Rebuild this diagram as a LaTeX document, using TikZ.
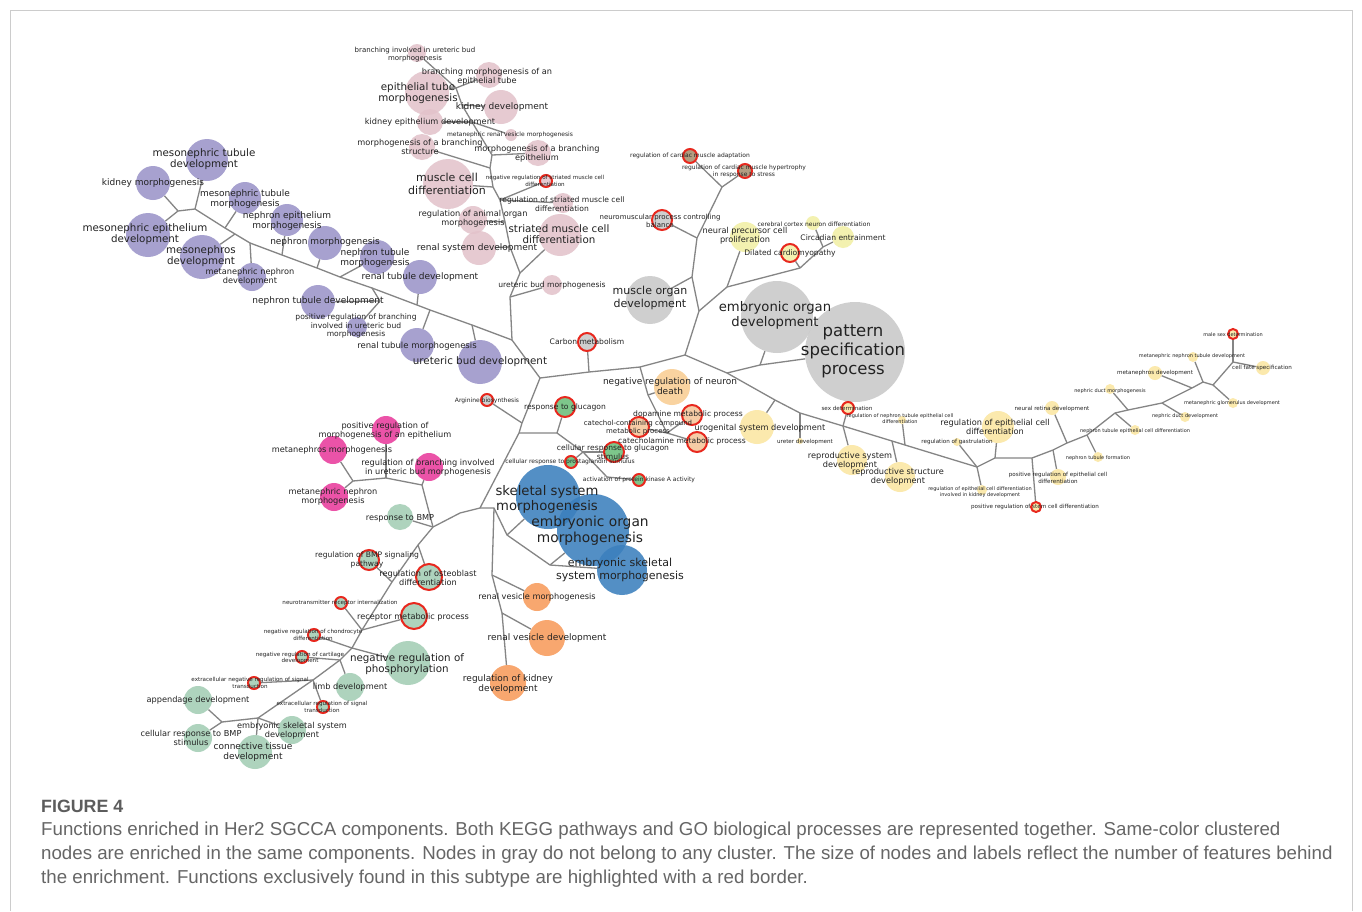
\documentclass[tikz,border=0pt]{standalone}
\usepackage{fontspec}
\setmainfont{DejaVu Sans}
\newfontfamily\capfont{Liberation Sans}
\definecolor{pinkc}{HTML}{E3C3CB}
\definecolor{purc}{HTML}{9B95C9}
\definecolor{grayc}{HTML}{C9C9C9}
\definecolor{brownc}{HTML}{A89070}
\definecolor{yelc}{HTML}{F2F0A6}
\definecolor{yel2}{HTML}{FBE6A2}
\definecolor{peach}{HTML}{F9CE93}
\definecolor{peach2}{HTML}{F5C69A}
\definecolor{magc}{HTML}{E93C9C}
\definecolor{greenc}{HTML}{A3CDB5}
\definecolor{bgreen}{HTML}{6CBF7B}
\definecolor{bluec}{HTML}{3C80BE}
\definecolor{orc}{HTML}{F89B5C}
\definecolor{redc}{HTML}{E8281E}
\definecolor{edgec}{HTML}{858585}
\definecolor{txtc}{HTML}{222222}
\definecolor{capc}{HTML}{666666}
\definecolor{framec}{HTML}{CCCCCC}
\pgfdeclarelayer{background}
\pgfsetlayers{background,main}
\tikzset{
  bub/.style={circle, inner sep=0pt, minimum size={2*#1pt}, fill opacity=0.88},
  rb/.style={draw=redc, line width=2pt},
  edge/.style={draw=edgec, line width=1.3pt},
  lbl/.style={align=center, inner sep=0pt, text=txtc},
  t5/.style={font=\fontsize{5.0}{5.9}\selectfont},
  t55/.style={font=\fontsize{5.6}{6.5}\selectfont},
  t6/.style={font=\fontsize{6}{7}\selectfont},
  t7/.style={font=\fontsize{7}{8}\selectfont},
  t75/.style={font=\fontsize{7.6}{8.8}\selectfont},
  t8/.style={font=\fontsize{8.2}{9.4}\selectfont},
  t85/.style={font=\fontsize{8.5}{9.8}\selectfont},
  t9/.style={font=\fontsize{9}{10.4}\selectfont},
  t10/.style={font=\fontsize{10.3}{11.6}\selectfont},
  t11/.style={font=\fontsize{11}{12.8}\selectfont},
  t13/.style={font=\fontsize{13.2}{15}\selectfont},
  t14/.style={font=\fontsize{13.8}{16}\selectfont},
  t165/.style={font=\fontsize{16.5}{19}\selectfont},
  captext/.style={anchor=west, inner sep=0pt, text=capc, font=\capfont\fontsize{18.7}{22}\selectfont},
}
\begin{document}
\begin{tikzpicture}[x=1pt,y=-1pt]
\useasboundingbox (0,0) rectangle (1362,911);
\begin{pgfonlayer}{background}
\fill[white] (0,0) rectangle (1362,911);
\end{pgfonlayer}
\draw[framec, line width=0.8pt] (10,911) -- (10,10) -- (1352,10) -- (1352,911);

% ---------------- PINK ----------------
\node[bub=9, fill=pinkc] (pk1) at (417,53) {};
\node[bub=13, fill=pinkc] (pk2) at (489,75) {};
\node[bub=22, fill=pinkc] (pk3) at (427,93) {};
\node[bub=17, fill=pinkc] (pk4) at (501,107) {};
\node[bub=13, fill=pinkc] (pk5) at (430,122) {};
\node[bub=6, fill=pinkc] (pk6) at (511,135) {};
\node[bub=13, fill=pinkc] (pk7) at (422,147) {};
\node[bub=13, fill=pinkc] (pk8) at (538,153) {};
\node[bub=25, fill=pinkc] (pk9) at (448,184) {};
\node[bub=6, fill=pinkc, rb] (pk10) at (546,181) {};
\node[bub=10, fill=pinkc] (pk11) at (563,203) {};
\node[bub=14, fill=pinkc] (pk12) at (473,220) {};
\node[bub=21, fill=pinkc] (pk13) at (560,235) {};
\node[bub=17, fill=pinkc] (pk14) at (479,248) {};
\node[bub=10, fill=pinkc] (pk15) at (552,285) {};

% ---------------- PURPLE ----------------
\node[bub=21, fill=purc] (pu1) at (207,160) {};
\node[bub=17, fill=purc] (pu2) at (153,183) {};
\node[bub=16, fill=purc] (pu3) at (245,198) {};
\node[bub=16, fill=purc] (pu4) at (287,220) {};
\node[bub=22, fill=purc] (pu5) at (148,235) {};
\node[bub=22, fill=purc] (pu6) at (202,257) {};
\node[bub=14, fill=purc] (pu7) at (252,277) {};
\node[bub=17, fill=purc] (pu8) at (325,243) {};
\node[bub=17, fill=purc] (pu9) at (377,257) {};
\node[bub=17, fill=purc] (pu10) at (420,277) {};
\node[bub=17, fill=purc] (pu11) at (318,302) {};
\node[bub=10, fill=purc] (pu12) at (357,327) {};
\node[bub=17, fill=purc] (pu13) at (417,345) {};
\node[bub=22, fill=purc] (pu14) at (480,362) {};

% ---------------- GRAY / YELLOW (top centre) ----------------
\node[bub=7, fill=brownc, rb] (g1) at (690,156) {};
\node[bub=7, fill=brownc, rb] (g2) at (745,171) {};
\node[bub=10, fill=grayc, rb] (g3) at (662,220) {};
\node[bub=15, fill=yelc] (y1) at (745,237) {};
\node[bub=7, fill=yelc] (y2) at (813,223) {};
\node[bub=11, fill=yelc] (y3) at (843,237) {};
\node[bub=9, fill=yelc, rb] (y4) at (790,253) {};
\node[bub=24, fill=grayc] (g4) at (650,300) {};
\node[bub=36, fill=grayc] (g5) at (777,317) {};
\node[bub=50, fill=grayc] (g6) at (855,352) {};
\node[bub=9, fill=grayc, rb] (g7) at (587,342) {};

% ---------------- CENTRE ----------------
\node[bub=18, fill=peach] (c1) at (672,387) {};
\node[bub=6, fill=grayc, rb] (c2) at (487,400) {};
\node[bub=10, fill=bgreen, rb] (c3) at (565,407) {};
\node[bub=10, fill=peach2, rb] (c4) at (639,427) {};
\node[bub=10, fill=peach2, rb] (c5) at (692,415) {};
\node[bub=10, fill=peach2, rb] (c6) at (697,442) {};
\node[bub=17, fill=yel2] (c7) at (757,427) {};
\node[bub=10, fill=bgreen, rb] (c8) at (614,452) {};
\node[bub=6, fill=bgreen, rb] (c9) at (571,462) {};
\node[bub=6, fill=bgreen, rb] (c10) at (639,480) {};
\node[bub=3, fill=yel2] (ur) at (800,441) {};

% ---------------- YELLOW (right) ----------------
\node[bub=6, fill=yel2, rb] (r1) at (848,408) {};
\node[bub=4, fill=yel2] (r2) at (902,420) {};
\node[bub=15, fill=yel2] (r3) at (852,460) {};
\node[bub=15, fill=yel2] (r4) at (900,477) {};
\node[bub=4, fill=yel2] (r5) at (957,442) {};
\node[bub=16, fill=yel2] (r6) at (998,427) {};
\node[bub=5, fill=yel2] (r7) at (982,490) {};
\node[bub=5, fill=yel2, rb] (r8) at (1036,507) {};
\node[bub=8, fill=yel2] (r9) at (1058,477) {};
\node[bub=7, fill=yel2] (r10) at (1052,408) {};
\node[bub=5, fill=yel2] (r11) at (1098,457) {};
\node[bub=5, fill=yel2] (r12) at (1135,430) {};
\node[bub=5, fill=yel2] (r13) at (1110,389) {};
\node[bub=5, fill=yel2] (r14) at (1185,417) {};
\node[bub=7, fill=yel2] (r15) at (1155,373) {};
\node[bub=5, fill=yel2] (r16) at (1193,357) {};
\node[bub=5, fill=yel2] (r17) at (1233,403) {};
\node[bub=5, fill=yel2, rb] (r18) at (1233,334) {};
\node[bub=7, fill=yel2] (r19) at (1263,368) {};

% ---------------- MAGENTA ----------------
\node[bub=14, fill=magc] (m1) at (386,430) {};
\node[bub=14, fill=magc] (m2) at (333,450) {};
\node[bub=14, fill=magc] (m3) at (429,467) {};
\node[bub=14, fill=magc] (m4) at (334,497) {};

% ---------------- GREEN ----------------
\node[bub=13, fill=greenc] (gr0) at (400,517) {};
\node[bub=10, fill=greenc, rb] (gr1) at (369,560) {};
\node[bub=13, fill=greenc, rb] (gr2) at (429,577) {};
\node[bub=6, fill=greenc, rb] (gr3) at (341,603) {};
\node[bub=13, fill=greenc, rb] (gr4) at (414,616) {};
\node[bub=6, fill=greenc, rb] (gr5) at (314,635) {};
\node[bub=6, fill=greenc, rb] (gr6) at (302,657) {};
\node[bub=22, fill=greenc] (gr7) at (408,663) {};
\node[bub=6, fill=greenc, rb] (gr8) at (254,683) {};
\node[bub=14, fill=greenc] (gr9) at (350,687) {};
\node[bub=6, fill=greenc, rb] (gr10) at (323,707) {};
\node[bub=14, fill=greenc] (gr11) at (198,700) {};
\node[bub=14, fill=greenc] (gr12) at (292,730) {};
\node[bub=14, fill=greenc] (gr13) at (198,738) {};
\node[bub=17, fill=greenc] (gr14) at (255,752) {};

% ---------------- BLUE / ORANGE ----------------
\node[bub=32, fill=bluec] (b1) at (548,497) {};
\node[bub=36, fill=bluec] (b2) at (593,530) {};
\node[bub=25, fill=bluec] (b3) at (622,570) {};
\node[bub=14, fill=orc] (o1) at (537,597) {};
\node[bub=18, fill=orc] (o2) at (547,638) {};
\node[bub=18, fill=orc] (o3) at (508,683) {};

% ---------------- junctions ----------------
\coordinate (J1) at (178,211); \coordinate (J2) at (195,209);
\coordinate (A1) at (225,228); \coordinate (A2) at (235,234);
\coordinate (A3) at (250,243); \coordinate (A4) at (282,255);
\coordinate (A5) at (317,268); \coordinate (A6) at (340,277);
\coordinate (A7) at (372,288); \coordinate (Jn) at (380,301);
\coordinate (A8) at (417,305); \coordinate (A9) at (430,310);
\coordinate (A10) at (472,325); \coordinate (R0) at (512,340);
\coordinate (P1) at (510,297); \coordinate (P2) at (520,273);
\coordinate (P3) at (510,247); \coordinate (P4) at (505,222);
\coordinate (P5) at (500,200); \coordinate (P6) at (493,187);
\coordinate (P7) at (490,168); \coordinate (P8) at (492,155);
\coordinate (P9) at (472,122); \coordinate (P10) at (462,105);
\coordinate (P11) at (456,88);
\coordinate (C0) at (540,378); \coordinate (Cb) at (589,372);
\coordinate (N0) at (640,367); \coordinate (N1) at (648,395);
\coordinate (N2) at (667,433); \coordinate (M3) at (685,355);
\coordinate (G1) at (699,311); \coordinate (Gm) at (692,277);
\coordinate (Gn) at (697,238); \coordinate (Gc) at (722,187);
\coordinate (Y1) at (727,287); \coordinate (Y2) at (800,268);
\coordinate (Y3) at (823,247);
\coordinate (PS1) at (727,373); \coordinate (PS2) at (760,365);
\coordinate (U1) at (775,400); \coordinate (U2) at (800,413);
\coordinate (U3) at (843,426); \coordinate (U4) at (892,441);
\coordinate (U5) at (905,445); \coordinate (U6) at (977,467);
\coordinate (U7) at (995,458); \coordinate (U8) at (1032,458);
\coordinate (U9) at (1053,450); \coordinate (U10) at (1067,443);
\coordinate (U11) at (1087,435); \coordinate (U12) at (1115,413);
\coordinate (U13) at (1128,410); \coordinate (U14) at (1162,403);
\coordinate (U15) at (1192,388); \coordinate (U16) at (1203,382);
\coordinate (U17) at (1213,385); \coordinate (U18) at (1233,362);
\coordinate (K1) at (522,423); \coordinate (K2) at (519,433);
\coordinate (L1) at (557,433); \coordinate (L2) at (583,452);
\coordinate (L3) at (607,477);
\coordinate (K3) at (480,508); \coordinate (K4) at (494,508);
\coordinate (Kl) at (460,513); \coordinate (K5) at (507,535);
\coordinate (K6) at (550,565);
\coordinate (O1) at (492,575); \coordinate (O2) at (502,613);
\coordinate (Mg) at (433,527); \coordinate (Mm) at (422,485);
\coordinate (Mp) at (386,478); \coordinate (Ml) at (353,481);
\coordinate (G0) at (418,545); \coordinate (Ga) at (392,582);
\coordinate (Gb) at (362,630); \coordinate (Gc2) at (352,648);
\coordinate (Gd) at (340,660); \coordinate (Ge) at (313,680);
\coordinate (Gf) at (258,718); \coordinate (Gg) at (222,722);

% ---------------- edges ----------------
\begin{pgfonlayer}{background}
% purple
\draw[edge] (J1) -- (pu2); \draw[edge] (J1) -- (pu5); \draw[edge] (J1) -- (J2);
\draw[edge] (J2) -- (pu1);
\draw[edge] (J2) -- (A1) -- (A2) -- (A3) -- (A4) -- (A5) -- (A6) -- (A7) -- (A8) -- (A9) -- (A10) -- (R0);
\draw[edge] (A1) -- (pu3); \draw[edge] (A2) -- (pu6); \draw[edge] (A3) -- (pu7);
\draw[edge] (A4) -- (pu4); \draw[edge] (A5) -- (pu8); \draw[edge] (A6) -- (pu9);
\draw[edge] (A7) -- (Jn); \draw[edge] (Jn) -- (pu11); \draw[edge] (Jn) -- (pu12);
\draw[edge] (A8) -- (pu10); \draw[edge] (A9) -- (pu13); \draw[edge] (A10) -- (pu14);
% pink
\draw[edge] (R0) -- (P1) -- (P2) -- (P3) -- (P4) -- (P5) -- (P6) -- (P7) -- (P8) -- (P9) -- (P10) -- (P11);
\draw[edge] (P1) -- (pk15); \draw[edge] (P2) -- (pk13); \draw[edge] (P3) -- (pk14);
\draw[edge] (P4) -- (pk12); \draw[edge] (P5) -- (pk10); \draw[edge] (P5) -- (pk11);
\draw[edge] (P6) -- (pk9); \draw[edge] (P7) -- (pk7); \draw[edge] (P8) -- (pk8);
\draw[edge] (P9) -- (pk5); \draw[edge] (P9) -- (pk6); \draw[edge] (P10) -- (pk4);
\draw[edge] (P11) -- (pk3); \draw[edge] (P11) -- (pk2); \draw[edge] (P11) -- (pk1);
% centre trunk
\draw[edge] (R0) -- (C0) -- (Cb) -- (N0) -- (M3);
\draw[edge] (Cb) -- (g7);
\draw[edge] (N0) -- (N1) -- (N2); \draw[edge] (N1) -- (c1);
\draw[edge] (N2) -- (c4); \draw[edge] (N2) -- (c5); \draw[edge] (N2) -- (c6);
\draw[edge] (M3) -- (G1) -- (Gm) -- (Gn) -- (Gc);
\draw[edge] (Gm) -- (g4); \draw[edge] (Gn) -- (g3);
\draw[edge] (Gc) -- (g1); \draw[edge] (Gc) -- (g2);
\draw[edge] (G1) -- (Y1) -- (Y2) -- (Y3);
\draw[edge] (Y1) -- (y1); \draw[edge] (Y2) -- (y4);
\draw[edge] (Y3) -- (y3); \draw[edge] (Y3) -- (y2);
\draw[edge] (M3) -- (PS1) -- (PS2); \draw[edge] (PS2) -- (g5); \draw[edge] (PS2) -- (g6);
% right
\draw[edge] (PS1) -- (U1) -- (U2) -- (U3) -- (U4) -- (U5) -- (U6) -- (U7) -- (U8) -- (U9) -- (U10) -- (U11) -- (U12) -- (U13) -- (U14) -- (U15) -- (U16) -- (U17) -- (U18);
\draw[edge] (U1) -- (c7); \draw[edge] (U2) -- (ur);
\draw[edge] (U3) -- (r1); \draw[edge] (U3) -- (r3); \draw[edge] (U4) -- (r4);
\draw[edge] (U5) -- (r2); \draw[edge] (U6) -- (r5); \draw[edge] (U6) -- (r7);
\draw[edge] (U7) -- (r6); \draw[edge] (U8) -- (r8); \draw[edge] (U9) -- (r9);
\draw[edge] (U10) -- (r10); \draw[edge] (U11) -- (r11); \draw[edge] (U12) -- (r12);
\draw[edge] (U13) -- (r13); \draw[edge] (U14) -- (r14); \draw[edge] (U15) -- (r15);
\draw[edge] (U16) -- (r16); \draw[edge] (U17) -- (r17);
\draw[edge] (U18) -- (r18); \draw[edge] (U18) -- (r19);
% lower centre
\draw[edge] (C0) -- (K1) -- (K2) -- (K3);
\draw[edge] (K1) -- (c2);
\draw[edge] (K2) -- (L1) -- (L2) -- (L3);
\draw[edge] (L1) -- (c3); \draw[edge] (L2) -- (c8); \draw[edge] (L2) -- (c9);
\draw[edge] (L3) -- (c10);
\draw[edge] (K3) -- (K4) -- (K5) -- (K6);
\draw[edge] (K5) -- (b1); \draw[edge] (K6) -- (b2); \draw[edge] (K6) -- (b3);
\draw[edge] (K4) -- (O1) -- (O2) -- (o3);
\draw[edge] (O1) -- (o1); \draw[edge] (O2) -- (o2);
\draw[edge] (K3) -- (Kl) -- (Mg);
% magenta
\draw[edge] (Mg) -- (Mm) -- (Mp) -- (Ml);
\draw[edge] (Mm) -- (m3); \draw[edge] (Mp) -- (m1);
\draw[edge] (Ml) -- (m2); \draw[edge] (Ml) -- (m4);
\draw[edge] (Mg) -- (gr0);
% green
\draw[edge] (Mg) -- (G0) -- (Ga) -- (Gb) -- (Gc2) -- (Gd) -- (Ge) -- (Gf) -- (Gg);
\draw[edge] (G0) -- (gr2); \draw[edge] (Ga) -- (gr1);
\draw[edge] (Gb) -- (gr4); \draw[edge] (Gb) -- (gr3);
\draw[edge] (Gc2) -- (gr7); \draw[edge] (Gc2) -- (gr5);
\draw[edge] (Gd) -- (gr6); \draw[edge] (Gd) -- (gr9);
\draw[edge] (Ge) -- (gr8); \draw[edge] (Ge) -- (gr10);
\draw[edge] (Gf) -- (gr12); \draw[edge] (Gf) -- (gr14);
\draw[edge] (Gg) -- (gr11); \draw[edge] (Gg) -- (gr13);
\end{pgfonlayer}

% ---------------- labels ----------------
\node[lbl,t7] (lpk1) at (415,55) {branching involved in ureteric bud\\morphogenesis};
\node[lbl,t8] (lpk2) at (487,77) {branching morphogenesis of an\\epithelial tube};
\node[lbl,t10] (lpk3) at (418,93) {epithelial tube\\morphogenesis};
\node[lbl,t9] (lpk4) at (502,107) {kidney development};
\node[lbl,t8] (lpk5) at (430,122) {kidney epithelium development};
\node[lbl,t6] (lpk6) at (510,135) {metanephric renal vesicle morphogenesis};
\node[lbl,t8] (lpk7) at (420,147) {morphogenesis of a branching\\structure};
\node[lbl,t8] (lpk8) at (537,154) {morphogenesis of a branching\\epithelium};
\node[lbl,t11] (lpk9) at (447,184) {muscle cell\\differentiation};
\node[lbl,t55] (lpk10) at (545,181) {negative regulation of striated muscle cell\\differentiation};
\node[lbl,t75] (lpk11) at (562,204) {regulation of striated muscle cell\\differentiation};
\node[lbl,t8] (lpk12) at (473,219) {regulation of animal organ\\morphogenesis};
\node[lbl,t10] (lpk13) at (559,234) {striated muscle cell\\differentiation};
\node[lbl,t9] (lpk14) at (477,248) {renal system development};
\node[lbl,t75] (lpk15) at (552,285) {ureteric bud morphogenesis};

\node[lbl,t10] (lpu1) at (204,159) {mesonephric tubule\\development};
\node[lbl,t9] (lpu2) at (153,183) {kidney morphogenesis};
\node[lbl,t9] (lpu3) at (245,199) {mesonephric tubule\\morphogenesis};
\node[lbl,t9] (lpu4) at (287,221) {nephron epithelium\\morphogenesis};
\node[lbl,t10] (lpu5) at (145,234) {mesonephric epithelium\\development};
\node[lbl,t10] (lpu6) at (201,256) {mesonephros\\development};
\node[lbl,t8] (lpu7) at (250,277) {metanephric nephron\\development};
\node[lbl,t9] (lpu8) at (325,242) {nephron morphogenesis};
\node[lbl,t9] (lpu9) at (375,258) {nephron tubule\\morphogenesis};
\node[lbl,t9] (lpu10) at (420,277) {renal tubule development};
\node[lbl,t9] (lpu11) at (318,301) {nephron tubule development};
\node[lbl,t75] (lpu12) at (356,326) {positive regulation of branching\\involved in ureteric bud\\morphogenesis};
\node[lbl,t85] (lpu13) at (417,346) {renal tubule morphogenesis};
\node[lbl,t10] (lpu14) at (480,362) {ureteric bud development};

\node[lbl,t6] (lg1) at (690,156) {regulation of cardiac muscle adaptation};
\node[lbl,t6] (lg2) at (744,171) {regulation of cardiac muscle hypertrophy\\in response to stress};
\node[lbl,t7] (lg3) at (660,221) {neuromuscular process controlling\\balance};
\node[lbl,t8] (ly1) at (745,236) {neural precursor cell\\proliferation};
\node[lbl,t6] (ly2) at (814,224) {cerebral cortex neuron differentiation};
\node[lbl,t75] (ly3) at (843,238) {Circadian entrainment};
\node[lbl,t75] (ly4) at (790,253) {Dilated cardiomyopathy};
\node[lbl,t11] (lg4) at (650,298) {muscle organ\\development};
\node[lbl,t13] (lg5) at (775,315) {embryonic organ\\development};
\node[lbl,t165] (lg6) at (853,351) {pattern\\specification\\process};
\node[lbl,t75] (lg7) at (587,342) {Carbon metabolism};

\node[lbl,t9] (lc1) at (670,386) {negative regulation of neuron\\death};
\node[lbl,t6] (lc2) at (487,401) {Arginine biosynthesis};
\node[lbl,t75] (lc3) at (565,407) {response to glucagon};
\node[lbl,t7] (lc4) at (638,428) {catechol-containing compound\\metabolic process};
\node[lbl,t75] (lc5) at (688,414) {dopamine metabolic process};
\node[lbl,t75] (lc6) at (682,441) {catecholamine metabolic process};
\node[lbl,t8] (lc7) at (760,428) {urogenital system development};
\node[lbl,t75] (lc8) at (613,452) {cellular response to glucagon\\stimulus};
\node[lbl,t6] (lc9) at (570,462) {cellular response to prostaglandin stimulus};
\node[lbl,t6] (lc10) at (639,480) {activation of protein kinase A activity};
\node[lbl,t55] (lur) at (805,442) {ureter development};

\node[lbl,t55] (lr1) at (847,408) {sex determination};
\node[lbl,t5] (lr2) at (900,419) {regulation of nephron tubule epithelial cell\\differentiation};
\node[lbl,t8] (lr3) at (850,461) {reproductive system\\development};
\node[lbl,t8] (lr4) at (898,477) {reproductive structure\\development};
\node[lbl,t55] (lr5) at (957,442) {regulation of gastrulation};
\node[lbl,t8] (lr6) at (995,427) {regulation of epithelial cell\\differentiation};
\node[lbl,t5] (lr7) at (980,492) {regulation of epithelial cell differentiation\\involved in kidney development};
\node[lbl,t55] (lr8) at (1035,507) {positive regulation of stem cell differentiation};
\node[lbl,t55] (lr9) at (1058,478) {positive regulation of epithelial cell\\differentiation};
\node[lbl,t55] (lr10) at (1052,409) {neural retina development};
\node[lbl,t5] (lr11) at (1098,458) {nephron tubule formation};
\node[lbl,t5] (lr12) at (1135,431) {nephron tubule epithelial cell differentiation};
\node[lbl,t5] (lr13) at (1110,391) {nephric duct morphogenesis};
\node[lbl,t5] (lr14) at (1185,416) {nephric duct development};
\node[lbl,t55] (lr15) at (1155,373) {metanephros development};
\node[lbl,t5] (lr16) at (1192,356) {metanephric nephron tubule development};
\node[lbl,t5] (lr17) at (1232,403) {metanephric glomerulus development};
\node[lbl,t5] (lr18) at (1233,335) {male sex determination};
\node[lbl,t55] (lr19) at (1262,368) {cell fate specification};

\node[lbl,t8] (lm1) at (385,431) {positive regulation of\\morphogenesis of an epithelium};
\node[lbl,t8] (lm2) at (332,450) {metanephros morphogenesis};
\node[lbl,t8] (lm3) at (428,468) {regulation of branching involved\\in ureteric bud morphogenesis};
\node[lbl,t8] (lm4) at (333,497) {metanephric nephron\\morphogenesis};

\node[lbl,t8] (lgr0) at (400,518) {response to BMP};
\node[lbl,t75] (lgr1) at (367,560) {regulation of BMP signaling\\pathway};
\node[lbl,t8] (lgr2) at (428,578) {regulation of osteoblast\\differentiation};
\node[lbl,t55] (lgr3) at (340,603) {neurotransmitter receptor internalization};
\node[lbl,t8] (lgr4) at (413,617) {receptor metabolic process};
\node[lbl,t55] (lgr5) at (313,635) {negative regulation of chondrocyte\\differentiation};
\node[lbl,t55] (lgr6) at (300,658) {negative regulation of cartilage\\development};
\node[lbl,t10] (lgr7) at (407,664) {negative regulation of\\phosphorylation};
\node[lbl,t55] (lgr8) at (250,683) {extracellular negative regulation of signal\\transduction};
\node[lbl,t8] (lgr9) at (350,687) {limb development};
\node[lbl,t55] (lgr10) at (322,707) {extracellular regulation of signal\\transduction};
\node[lbl,t8] (lgr11) at (198,700) {appendage development};
\node[lbl,t8] (lgr12) at (292,731) {embryonic skeletal system\\development};
\node[lbl,t8] (lgr13) at (191,738) {cellular response to BMP\\stimulus};
\node[lbl,t9] (lgr14) at (253,752) {connective tissue\\development};

\node[lbl,t13] (lb1) at (547,499) {skeletal system\\morphogenesis};
\node[lbl,t14] (lb2) at (590,531) {embryonic organ\\morphogenesis};
\node[lbl,t11] (lb3) at (620,570) {embryonic skeletal\\system morphogenesis};
\node[lbl,t8] (lo1) at (537,597) {renal vesicle morphogenesis};
\node[lbl,t9] (lo2) at (547,638) {renal vesicle development};
\node[lbl,t9] (lo3) at (508,684) {regulation of kidney\\development};

% ---------------- caption ----------------
\node[anchor=west, inner sep=0pt, text=capc!90!black, font=\capfont\bfseries\fontsize{17.8}{21}\selectfont] (figlab) at (41,806) {FIGURE 4};
\node[captext] (cap1) at (41,831) {Functions enriched in Her2 SGCCA components. Both KEGG pathways and GO biological processes are represented together. Same-color clustered};
\node[captext] (cap2) at (41,855) {nodes are enriched in the same components. Nodes in gray do not belong to any cluster. The size of nodes and labels reflect the number of features behind};
\node[captext] (cap3) at (41,879) {the enrichment. Functions exclusively found in this subtype are highlighted with a red border.};
\end{tikzpicture}
\end{document}
